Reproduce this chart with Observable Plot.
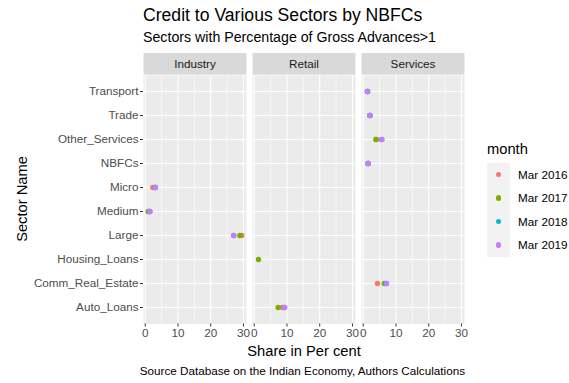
<!DOCTYPE html>
<html>
<head>
<meta charset="utf-8">
<script src="https://cdn.jsdelivr.net/npm/d3@7"></script>
<script src="https://cdn.jsdelivr.net/npm/@observablehq/plot@0.6"></script>
<style>
  html, body { margin: 0; padding: 0; background: #fff; }
  body { font-family: "Liberation Sans", Arial, sans-serif; }
  #wrap { position: relative; width: 569px; height: 383px; overflow: hidden; }
  #chart { position: absolute; left: 0; top: 0; }
  .t { position: absolute; white-space: nowrap; color: #000; line-height: 1; }
</style>
</head>
<body>
<div id="wrap">
  <div id="chart"></div>
  <div class="t" id="title" style="left:143px; top:7px; font-size:17.6px;">Credit to Various Sectors by NBFCs</div>
  <div class="t" id="subtitle" style="left:143px; top:30px; font-size:14.2px;">Sectors with Percentage of Gross Advances&gt;1</div>
  <div class="t" id="ytitle" style="left:22px; top:199px; font-size:14.7px; transform: translate(-50%,-50%) rotate(-90deg);">Sector Name</div>
  <div class="t" id="xtitle" style="left:304px; top:351px; font-size:14.7px; transform: translate(-50%,-50%);">Share in Per cent</div>
  <div class="t" id="caption" style="left:465px; top:371px; font-size:11.7px; transform: translate(-100%,-50%);">Source Database on the Indian Economy, Authors Calculations</div>
  <div id="legend"></div>
</div>
<script>
// ---- data ----
const groups = ["Industry", "Retail", "Services"];
const sectors = ["Large", "Medium", "Micro", "Auto_Loans", "Housing_Loans", "Comm_Real_Estate", "NBFCs", "Other_Services", "Trade", "Transport"];
const sectorGroup = ["Industry", "Industry", "Industry", "Retail", "Retail", "Services", "Services", "Services", "Services", "Services"];
const months = ["Mar 2016", "Mar 2017", "Mar 2018", "Mar 2019"];
const mar2016 = [29.5, 1.3, 2.3, 8.6, null, 4.35, 1.5, 4.1, 2.0, 1.3];
const mar2017 = [28.9, 0.9, 3.0, 7.3, 1.3, 6.4, 1.5, 3.85, 2.1, 1.3];
const mar2018 = [27.0, 1.4, 3.1, 9.2, null, 7.0, 1.5, 5.6, 2.0, 1.3];
const mar2019 = [27.0, 1.4, 3.1, 9.3, null, 7.1, 1.5, 5.7, 2.0, 1.3];
const monthColors = ["#F8766D", "#7CAE00", "#00BFC4", "#C77CFF"];
const xTicks = [0, 10, 20, 30];
const xMinor = [5, 15, 25];

// ---- table ----
const series = [mar2016, mar2017, mar2018, mar2019];
const rows = [];
series.forEach((vals, mi) => {
  vals.forEach((v, si) => {
    if (v != null) rows.push({month: months[mi], sector: sectors[si], group: sectorGroup[si], value: v});
  });
});
// ggplot-like 5% expansion of the data range
const ext = d3.extent(rows, d => d.value);
const pad = (ext[1] - ext[0]) * 0.05;
const xDomain = [ext[0] - pad, ext[1] + pad];
const yOrder = [...sectors].sort().reverse();

const W = 569, H = 383;
const mTop = 75, mBottom = 59.5, mLeft = 143, mRight = 104;
const panelH = H - mTop - mBottom;

const plot = Plot.plot({
  width: W,
  height: H,
  marginTop: mTop,
  marginBottom: mBottom,
  marginLeft: mLeft,
  marginRight: mRight,
  style: {fontFamily: "'Liberation Sans', Arial, sans-serif", background: "transparent", overflow: "visible"},
  fx: {domain: groups, paddingInner: 0.052, paddingOuter: 0, axis: null, label: null},
  x: {domain: xDomain, label: null},
  y: {type: "point", domain: yOrder, padding: 0.6, label: null},
  color: {domain: months, range: monthColors},
  marks: [
    Plot.frame({fill: "#EBEBEB", stroke: "none"}),
    Plot.frame({fill: "#D9D9D9", stroke: "none", insetTop: -22.5, insetBottom: panelH + 0.8}),
    Plot.text(groups, {fx: d => d, text: d => d, frameAnchor: "top", lineAnchor: "middle", dy: -11.5, fontSize: 11.7, fill: "#1A1A1A"}),
    Plot.ruleX(xMinor, {stroke: "#fff", strokeWidth: 0.55}),
    Plot.ruleX(xTicks, {stroke: "#fff", strokeWidth: 1.07}),
    Plot.ruleY(yOrder, {y: d => d, stroke: "#fff", strokeWidth: 1.07}),
    Plot.dot(rows, {fx: "group", x: "value", y: "sector", fill: "month", r: 2.7, stroke: "none"}),
    Plot.axisX({ticks: xTicks, tickSize: 3, tickPadding: 2, fontSize: 11.7, stroke: "#333333", fill: "#4D4D4D", label: null}),
    Plot.axisY({tickSize: 3, tickPadding: 2, fontSize: 11.7, stroke: "#333333", fill: "#4D4D4D", label: null})
  ]
});
document.getElementById("chart").appendChild(plot);

// ---- legend ----
const lg = document.getElementById("legend");
lg.style.position = "absolute";
lg.style.left = "487px";
lg.style.top = "140px";
let html = '<div class="t" style="position:absolute; left:0; top:2px; font-size:14.7px;">month</div>';
html += '<div style="position:absolute; left:0; top:23px; width:23px; height:94px; background:#F2F2F2;"></div>';
months.forEach((m, i) => {
  const cy = 34.5 + i * 23.5;
  html += `<div style="position:absolute; left:${11.5 - 2.7}px; top:${cy - 2.7}px; width:5.4px; height:5.4px; border-radius:50%; background:${monthColors[i]};"></div>`;
  html += `<div class="t" style="position:absolute; left:31px; top:${cy}px; font-size:11.7px; color:#000; transform: translateY(-50%);">${m}</div>`;
});
lg.innerHTML = html;
</script>
</body>
</html>
